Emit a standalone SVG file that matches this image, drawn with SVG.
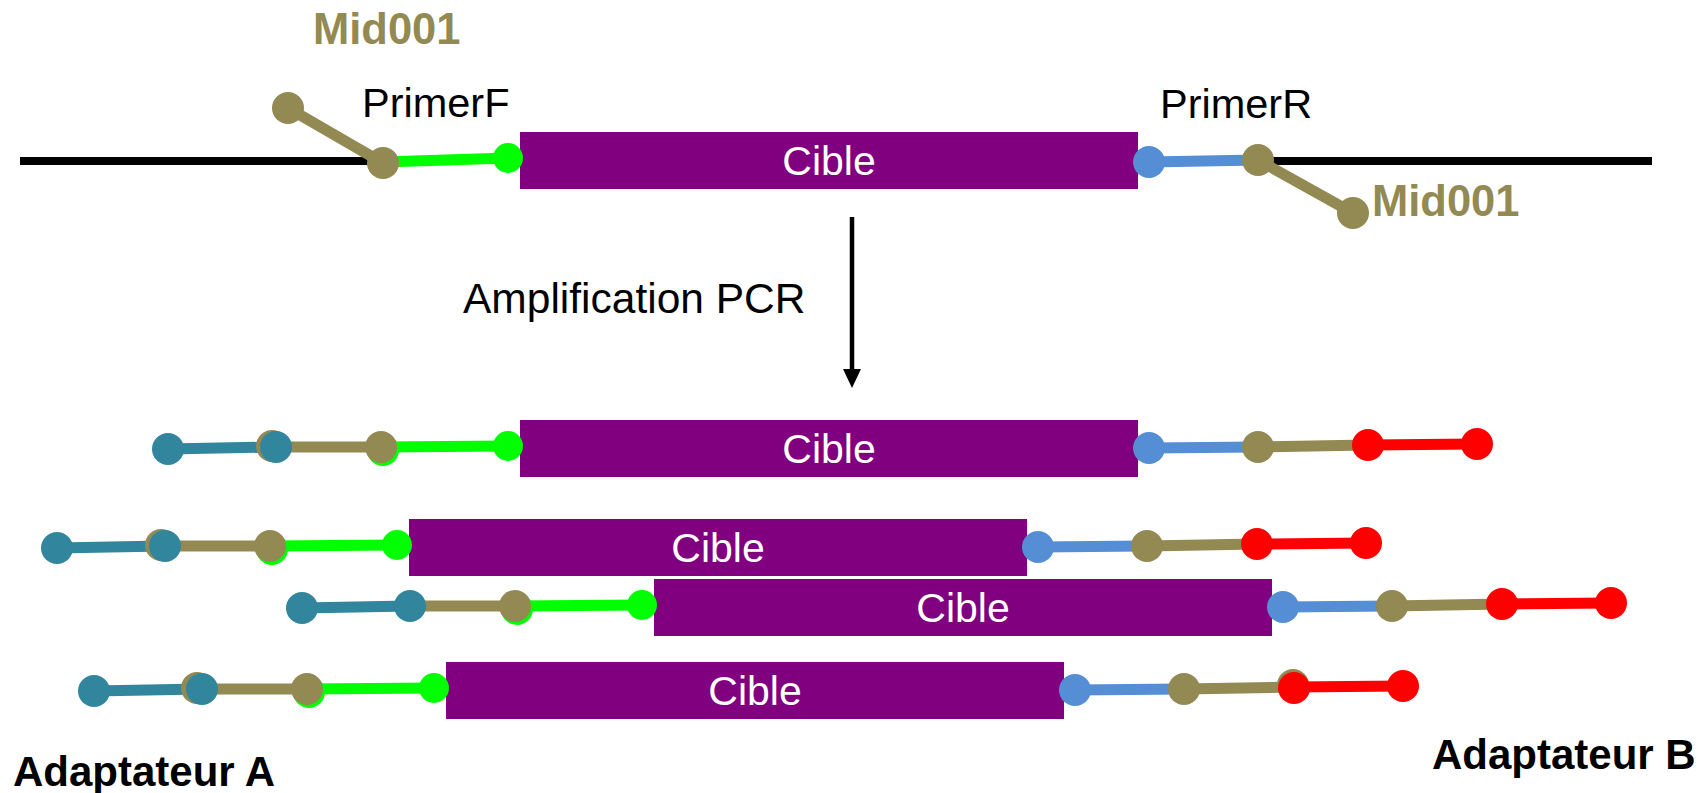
<svg xmlns="http://www.w3.org/2000/svg" width="1698" height="793" viewBox="0 0 1698 793">
  <defs>
    <style>
      .l { stroke-width: 11; stroke-linecap: butt; fill: none; }
      .tan { stroke: #938953; }
      .teal { stroke: #31859C; }
      .green { stroke: #00FF00; }
      .blue { stroke: #558ED5; }
      .red { stroke: #FF0000; }
      .dna { stroke: #000000; stroke-width: 8; }
      .c-tan { fill: #938953; }
      .c-teal { fill: #31859C; }
      .c-green { fill: #00FF00; }
      .c-blue { fill: #558ED5; }
      .c-red { fill: #FF0000; }
      .target { fill: #800080; }
      .cible { font-family: "Liberation Sans", Arial, sans-serif; font-size: 41px; fill: #FFFFFF; text-anchor: middle; }
      .label { font-family: "Liberation Sans", Arial, sans-serif; font-size: 41.5px; fill: #000000; }
      .mid { font-family: "Liberation Sans", Arial, sans-serif; font-size: 43.5px; font-weight: bold; fill: #938953; }
      .adapt { font-family: "Liberation Sans", Arial, sans-serif; font-size: 42px; font-weight: bold; fill: #000000; }
    </style>
    <marker id="arrowhead" viewBox="0 0 19 18" refX="0" refY="9" markerWidth="19" markerHeight="18" markerUnits="userSpaceOnUse" orient="auto">
      <polygon points="0,0 19,9 0,18" fill="#000000"/>
    </marker>
  </defs>

  <!-- Template DNA with primers and MID tags -->
  <g id="template">
    <line class="dna" x1="20" y1="161" x2="383" y2="161"/>
    <line class="dna" x1="1258" y1="161" x2="1652" y2="161"/>
    <line class="l tan" x1="288" y1="108" x2="383" y2="163"/>
    <line class="l green" x1="383" y1="162" x2="508" y2="158"/>
    <rect class="target" x="520" y="132" width="618" height="57"/>
    <text class="cible" x="829" y="175">Cible</text>
    <line class="l blue" x1="1149" y1="162" x2="1258" y2="160"/>
    <line class="l tan" x1="1258" y1="160" x2="1353" y2="213"/>
    <circle class="c-tan" cx="288" cy="108" r="16"/>
    <circle class="c-tan" cx="383" cy="163" r="16"/>
    <circle class="c-green" cx="508" cy="158" r="15"/>
    <circle class="c-blue" cx="1149" cy="162" r="16"/>
    <circle class="c-tan" cx="1258" cy="160" r="16"/>
    <circle class="c-tan" cx="1353" cy="213" r="16"/>
  </g>

  <g id="label-mid-f"><text class="mid" x="313" y="44">Mid001</text></g>
  <g id="label-primer-f"><text class="label" x="362" y="117">PrimerF</text></g>
  <g id="label-primer-r"><text class="label" x="1160" y="118">PrimerR</text></g>
  <g id="label-mid-r"><text class="mid" x="1372" y="216">Mid001</text></g>

  <!-- PCR step -->
  <g id="connectors">
    <line x1="852" y1="217" x2="852" y2="369" stroke="#000000" stroke-width="4.5" marker-end="url(#arrowhead)"/>
  </g>
  <g id="label-pcr"><text class="label" x="463" y="313" style="font-size:42.5px">Amplification PCR</text></g>

  <!-- Amplicons: adapter A - MID - primer F - target - primer R - MID - adapter B -->
  <g id="amplicon-1">
    <line class="l teal" x1="168" y1="449" x2="275" y2="447"/>
    <line class="l tan" x1="275" y1="447" x2="381" y2="447"/>
    <line class="l green" x1="381" y1="447" x2="508" y2="446"/>
    <rect class="target" x="520" y="420" width="618" height="57"/>
    <text class="cible" x="829" y="463">Cible</text>
    <line class="l blue" x1="1149" y1="448" x2="1258" y2="447"/>
    <line class="l tan" x1="1258" y1="447" x2="1368" y2="445"/>
    <line class="l red" x1="1368" y1="445" x2="1477" y2="444"/>
    <circle class="c-teal" cx="168" cy="449" r="16"/>
    <circle class="c-tan" cx="272" cy="446" r="16"/>
    <circle class="c-teal" cx="276" cy="447" r="16"/>
    <circle class="c-green" cx="383" cy="450" r="16"/>
    <circle class="c-tan" cx="381" cy="447" r="16"/>
    <circle class="c-green" cx="508" cy="446" r="15"/>
    <circle class="c-blue" cx="1149" cy="448" r="16"/>
    <circle class="c-tan" cx="1258" cy="447" r="16"/>
    <circle class="c-red" cx="1368" cy="445" r="16"/>
    <circle class="c-red" cx="1477" cy="444" r="16"/>
  </g>

  <g id="amplicon-2" transform="translate(-111,99)">
    <line class="l teal" x1="168" y1="449" x2="275" y2="447"/>
    <line class="l tan" x1="275" y1="447" x2="381" y2="447"/>
    <line class="l green" x1="381" y1="447" x2="508" y2="446"/>
    <rect class="target" x="520" y="420" width="618" height="57"/>
    <text class="cible" x="829" y="463">Cible</text>
    <line class="l blue" x1="1149" y1="448" x2="1258" y2="447"/>
    <line class="l tan" x1="1258" y1="447" x2="1368" y2="445"/>
    <line class="l red" x1="1368" y1="445" x2="1477" y2="444"/>
    <circle class="c-teal" cx="168" cy="449" r="16"/>
    <circle class="c-tan" cx="272" cy="446" r="16"/>
    <circle class="c-teal" cx="276" cy="447" r="16"/>
    <circle class="c-green" cx="383" cy="450" r="16"/>
    <circle class="c-tan" cx="381" cy="447" r="16"/>
    <circle class="c-green" cx="508" cy="446" r="15"/>
    <circle class="c-blue" cx="1149" cy="448" r="16"/>
    <circle class="c-tan" cx="1258" cy="447" r="16"/>
    <circle class="c-red" cx="1368" cy="445" r="16"/>
    <circle class="c-red" cx="1477" cy="444" r="16"/>
  </g>

  <g id="amplicon-3" transform="translate(134,159)">
    <line class="l teal" x1="168" y1="449" x2="275" y2="447"/>
    <line class="l tan" x1="275" y1="447" x2="381" y2="447"/>
    <line class="l green" x1="381" y1="447" x2="508" y2="446"/>
    <rect class="target" x="520" y="420" width="618" height="57"/>
    <text class="cible" x="829" y="463">Cible</text>
    <line class="l blue" x1="1149" y1="448" x2="1258" y2="447"/>
    <line class="l tan" x1="1258" y1="447" x2="1368" y2="445"/>
    <line class="l red" x1="1368" y1="445" x2="1477" y2="444"/>
    <circle class="c-teal" cx="168" cy="449" r="16"/>
    <circle class="c-teal" cx="276" cy="447" r="16"/>
    <circle class="c-green" cx="383" cy="450" r="16"/>
    <circle class="c-tan" cx="381" cy="447" r="16"/>
    <circle class="c-green" cx="508" cy="446" r="15"/>
    <circle class="c-blue" cx="1149" cy="448" r="16"/>
    <circle class="c-tan" cx="1258" cy="447" r="16"/>
    <circle class="c-red" cx="1368" cy="445" r="16"/>
    <circle class="c-red" cx="1477" cy="444" r="16"/>
  </g>

  <g id="amplicon-4" transform="translate(-74,242)">
    <line class="l teal" x1="168" y1="449" x2="275" y2="447"/>
    <line class="l tan" x1="275" y1="447" x2="381" y2="447"/>
    <line class="l green" x1="381" y1="447" x2="508" y2="446"/>
    <rect class="target" x="520" y="420" width="618" height="57"/>
    <text class="cible" x="829" y="463">Cible</text>
    <line class="l blue" x1="1149" y1="448" x2="1258" y2="447"/>
    <line class="l tan" x1="1258" y1="447" x2="1368" y2="445"/>
    <line class="l red" x1="1368" y1="445" x2="1477" y2="444"/>
    <circle class="c-teal" cx="168" cy="449" r="16"/>
    <circle class="c-tan" cx="271" cy="446" r="16"/>
    <circle class="c-teal" cx="276" cy="447" r="16"/>
    <circle class="c-green" cx="383" cy="450" r="16"/>
    <circle class="c-tan" cx="381" cy="447" r="16"/>
    <circle class="c-green" cx="508" cy="446" r="15"/>
    <circle class="c-blue" cx="1149" cy="448" r="16"/>
    <circle class="c-tan" cx="1258" cy="447" r="16"/>
    <circle class="c-tan" cx="1367" cy="443" r="16"/>
    <circle class="c-red" cx="1368" cy="446" r="16"/>
    <circle class="c-red" cx="1477" cy="444" r="16"/>
  </g>

  <g id="label-adapter-a"><text class="adapt" x="13" y="786">Adaptateur A</text></g>
  <g id="label-adapter-b"><text class="adapt" x="1432" y="769">Adaptateur B</text></g>
</svg>
